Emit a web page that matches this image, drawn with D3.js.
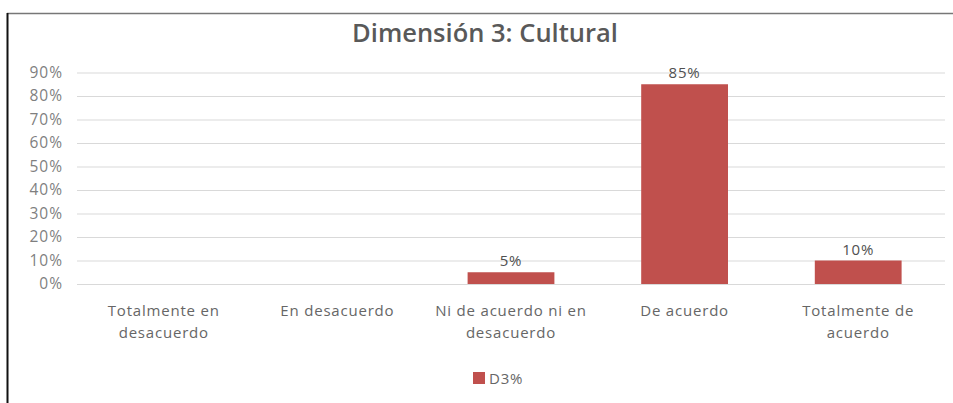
<!DOCTYPE html>
<html>
<head>
<meta charset="utf-8">
<script src="https://cdn.jsdelivr.net/npm/d3@7"></script>
<style>
  html, body { margin: 0; padding: 0; background: #fff; }
  svg { display: block; }
</style>
</head>
<body>
<svg id="chart" width="953" height="403"></svg>
<script>
// Survey responses for dimension 3 (share of respondents per answer)
const categories = [
  ["Totalmente en", "desacuerdo"],
  ["En desacuerdo"],
  ["Ni de acuerdo ni en", "desacuerdo"],
  ["De acuerdo"],
  ["Totalmente de", "acuerdo"]
];
const values = [null, null, 0.05, 0.85, 0.10];
const valueLabels = [null, null, "5%", "85%", "10%"];
const yTicks = [0, 0.1, 0.2, 0.3, 0.4, 0.5, 0.6, 0.7, 0.8, 0.9];
const seriesName = "D3%";
const title = "Dimensión 3: Cultural";

const svg = d3.select("#chart");
const W = 953, H = 403;
const margin = { left: 77, right: 8, top: 72.5, bottom: 119 };
const barColor = "#c0504d";
const font = "'Open Sans', 'DejaVu Sans', sans-serif";
const fs = 15;
const ls = "0.8px";

// frame lines
svg.append("line").attr("x1", 7).attr("x2", W).attr("y1", 13.5).attr("y2", 13.5)
  .attr("stroke", "#777").attr("stroke-width", 1.5);
svg.append("line").attr("x1", 7.5).attr("x2", 7.5).attr("y1", 13).attr("y2", H)
  .attr("stroke", "#111").attr("stroke-width", 2);

const x = d3.scaleBand()
  .domain(d3.range(categories.length))
  .range([margin.left, W - margin.right])
  .paddingInner(0.5).paddingOuter(0.25);

const y = d3.scaleLinear().domain([0, 0.9]).range([H - margin.bottom, margin.top]);

// title
svg.append("text")
  .attr("x", 485).attr("y", 42)
  .attr("text-anchor", "middle")
  .attr("font-family", "'Open Sans', sans-serif")
  .attr("font-weight", 600)
  .attr("font-size", 25.5)
  .attr("fill", "#595959")
  .text(title);

// gridlines + y labels
const yAxis = d3.axisLeft(y).tickValues(yTicks)
  .tickSize(-(W - margin.right - margin.left))
  .tickPadding(14)
  .tickFormat(d3.format(".0%"));
const gy = svg.append("g").attr("transform", `translate(${margin.left},0)`).call(yAxis);
gy.select(".domain").remove();
gy.selectAll(".tick line").attr("stroke", "#d9d9d9").attr("stroke-width", 1);
gy.selectAll(".tick text")
  .attr("font-family", font).attr("font-size", 15.5).attr("letter-spacing", "1px")
  .attr("fill", "#7f7f7f");

// bars
const data = values.map((v, i) => ({ i, v, label: valueLabels[i] })).filter(d => d.v != null);
svg.append("g").selectAll("rect").data(data).join("rect")
  .attr("x", d => x(d.i))
  .attr("width", x.bandwidth())
  .attr("y", d => y(d.v))
  .attr("height", d => y(0) - y(d.v))
  .attr("fill", barColor);

// value labels
svg.append("g").selectAll("text").data(data).join("text")
  .attr("x", d => x(d.i) + x.bandwidth() / 2)
  .attr("y", d => y(d.v) - 6)
  .attr("text-anchor", "middle")
  .attr("font-family", font).attr("font-size", fs).attr("letter-spacing", ls)
  .attr("fill", "#505050")
  .text(d => d.label);

// category labels
const gx = svg.append("g");
categories.forEach((lines, i) => {
  const cx = x(i) + x.bandwidth() / 2;
  const t = gx.append("text")
    .attr("x", cx)
    .attr("y", 316)
    .attr("text-anchor", "middle")
    .attr("font-family", font).attr("font-size", fs).attr("letter-spacing", ls)
    .attr("fill", "#666");
  lines.forEach((ln, k) => {
    t.append("tspan").attr("x", cx).attr("dy", k === 0 ? 0 : 22).text(ln);
  });
});

// legend
const lg = svg.append("g").attr("transform", "translate(473,372)");
lg.append("rect").attr("width", 12).attr("height", 12).attr("fill", barColor);
lg.append("text").attr("x", 16).attr("y", 12)
  .attr("font-family", font).attr("font-size", fs).attr("letter-spacing", ls)
  .attr("fill", "#666")
  .text(seriesName);
</script>
</body>
</html>
